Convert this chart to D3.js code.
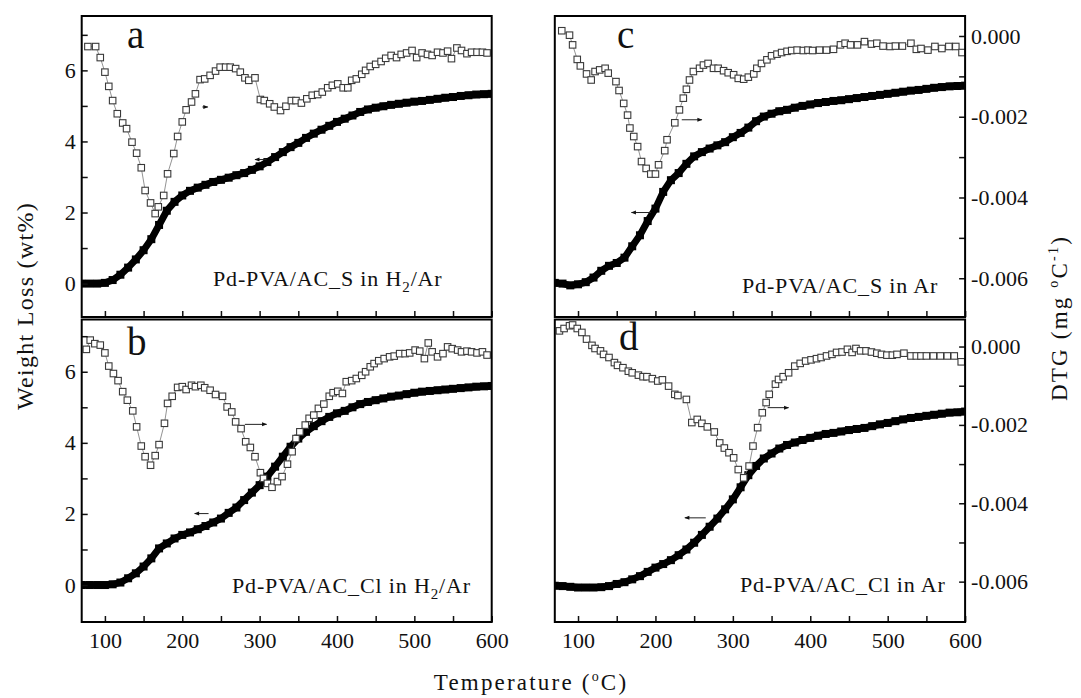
<!DOCTYPE html>
<html>
<head>
<meta charset="utf-8">
<script src="https://cdn.jsdelivr.net/npm/d3@7/dist/d3.min.js"></script>
<style>
  body{margin:0;background:#fff}
  svg{display:block;font-family:"Liberation Serif","Times New Roman",serif}
</style>
</head>
<body>
<script>
// temperatures (°C) at which the weight-loss curves were read
const tempGrid=[70,80,90,100,110,120,130,140,150,160,170,180,190,200,210,220,230,240,250,260,270,280,290,300,310,320,330,340,350,360,370,380,390,400,410,420,430,440,450,460,470,480,490,500,510,520,530,540,550,560,570,580,590,600];
// weight loss (wt%) on tempGrid
const weightA=[0,0,0,0.02,0.1,0.25,0.45,0.68,0.94,1.25,1.65,2.05,2.3,2.48,2.61,2.7,2.78,2.86,2.92,2.98,3.05,3.11,3.2,3.3,3.42,3.56,3.7,3.84,3.96,4.1,4.22,4.33,4.44,4.55,4.64,4.73,4.83,4.9,4.95,4.99,5.03,5.06,5.09,5.12,5.14,5.17,5.2,5.23,5.25,5.28,5.3,5.32,5.33,5.34];
const weightB=[0,0,0,0,0.02,0.07,0.19,0.33,0.52,0.75,1.03,1.17,1.31,1.41,1.48,1.57,1.66,1.76,1.87,2.03,2.18,2.39,2.6,2.81,3.05,3.33,3.61,3.89,4.12,4.31,4.47,4.61,4.73,4.83,4.9,5.0,5.09,5.15,5.2,5.25,5.3,5.33,5.37,5.41,5.44,5.46,5.48,5.5,5.52,5.54,5.56,5.58,5.59,5.6];
const weightC=[0.02,0,-0.05,-0.02,0.04,0.17,0.36,0.5,0.58,0.73,1.05,1.36,1.76,2.11,2.58,2.91,3.11,3.37,3.58,3.7,3.8,3.89,3.98,4.12,4.24,4.39,4.57,4.7,4.78,4.85,4.89,4.95,5.0,5.04,5.08,5.11,5.14,5.16,5.19,5.22,5.25,5.28,5.31,5.34,5.37,5.4,5.43,5.45,5.48,5.51,5.53,5.55,5.56,5.57];
const weightD=[-0.02,-0.03,-0.05,-0.07,-0.07,-0.07,-0.06,-0.03,0.03,0.08,0.16,0.25,0.37,0.49,0.59,0.7,0.84,1.0,1.19,1.41,1.64,1.87,2.13,2.41,2.75,3.09,3.35,3.56,3.7,3.84,3.94,4.01,4.08,4.14,4.2,4.25,4.28,4.32,4.36,4.39,4.42,4.47,4.52,4.56,4.61,4.66,4.7,4.73,4.76,4.79,4.82,4.85,4.86,4.88];

// DTG in panels a and b has no scale of its own: values read against the weight-loss axis
const dtgA=[[78,6.67],[88,6.67],[94,6.36],[100,5.95],[105,5.55],[110,5.15],[116,4.78],[123,4.52],[128,4.36],[135,3.98],[141,3.67],[147,3.26],[152,2.62],[159,2.27],[165,1.97],[169,2.16],[176,2.48],[181,3.09],[189,3.66],[194,4.14],[200,4.55],[205,4.89],[212,5.11],[217,5.34],[223,5.74],[229,5.76],[236,5.86],[243,5.98],[249,6.09],[256,6.09],[262,6.09],[269,6.05],[275,5.95],[281,5.79],[286,5.72],[294,5.79],[301,5.18],[306,5.15],[313,5.06],[319,4.97],[327,4.87],[334,4.99],[341,5.15],[347,5.15],[354,5.08],[361,5.2],[368,5.3],[375,5.32],[381,5.39],[388,5.51],[394,5.58],[401,5.62],[408,5.51],[414,5.51],[419,5.72],[425,5.76],[432,5.89],[437,6.0],[443,6.11],[450,6.17],[457,6.25],[463,6.34],[470,6.42],[477,6.36],[483,6.45],[490,6.49],[497,6.56],[503,6.36],[510,6.49],[517,6.45],[523,6.42],[530,6.51],[537,6.49],[543,6.54],[548,6.33],[555,6.63],[561,6.56],[568,6.47],[574,6.51],[581,6.51],[588,6.51],[594,6.49]];
const dtgB=[[76,6.63],[81,6.89],[87,6.79],[94,6.75],[100,6.53],[105,6.16],[111,5.95],[117,5.75],[123,5.44],[129,5.2],[136,4.9],[141,4.45],[147,3.91],[152,3.61],[159,3.37],[165,3.64],[170,3.95],[177,4.55],[181,5.11],[187,5.31],[194,5.56],[200,5.58],[205,5.5],[212,5.62],[217,5.58],[224,5.62],[229,5.55],[236,5.48],[243,5.36],[252,5.31],[258,5.01],[264,4.87],[269,4.59],[276,4.4],[282,4.03],[288,3.87],[294,3.61],[301,3.16],[305,3.0],[310,2.86],[316,2.75],[323,2.91],[329,3.05],[336,3.4],[342,3.75],[347,4.12],[352,4.31],[359,4.5],[364,4.69],[370,4.78],[376,4.97],[383,5.09],[390,5.31],[395,5.41],[401,5.45],[407,5.39],[412,5.72],[419,5.75],[425,5.81],[432,5.9],[437,6.0],[443,6.14],[448,6.23],[454,6.31],[461,6.37],[468,6.42],[474,6.44],[481,6.51],[488,6.51],[494,6.53],[501,6.61],[507,6.58],[513,6.37],[518,6.81],[523,6.56],[530,6.42],[537,6.51],[543,6.7],[549,6.65],[556,6.61],[561,6.56],[568,6.58],[574,6.56],[581,6.53],[588,6.56],[594,6.47]];
// DTG (mg °C-1) for panels c and d, read against the right axis
const dtgC=[[79,0.00013],[89,0.00002],[93,-0.00022],[99,-0.00058],[103,-0.00074],[111,-0.00094],[117,-0.00109],[122,-0.00088],[128,-0.00084],[135,-0.0008],[139,-0.00092],[149,-0.00113],[153,-0.00135],[159,-0.00167],[164,-0.00196],[167,-0.00228],[172,-0.00249],[177,-0.00274],[182,-0.00311],[188,-0.00328],[194,-0.00342],[200,-0.00342],[204,-0.00319],[212,-0.00284],[215,-0.00257],[225,-0.00215],[231,-0.00183],[236,-0.00154],[240,-0.00132],[244,-0.00109],[249,-0.00088],[257,-0.0008],[262,-0.00072],[268,-0.00068],[275,-0.0008],[281,-0.0008],[288,-0.00086],[294,-0.00091],[301,-0.00096],[307,-0.00105],[314,-0.00107],[320,-0.00102],[327,-0.00094],[331,-0.0008],[337,-0.00068],[344,-0.00059],[350,-0.00049],[357,-0.00045],[363,-0.00041],[370,-0.00038],[376,-0.00036],[383,-0.00035],[391,-0.00036],[397,-0.00035],[403,-0.00036],[412,-0.00035],[421,-0.00035],[430,-0.00033],[439,-0.00022],[445,-0.00018],[452,-0.00022],[461,-0.00022],[470,-0.00014],[479,-0.0002],[486,-0.00018],[494,-0.00025],[503,-0.00026],[510,-0.00025],[519,-0.00025],[530,-0.00018],[537,-0.00033],[543,-0.00031],[552,-0.00035],[561,-0.00026],[570,-0.00031],[579,-0.00026],[588,-0.00026],[596,-0.00041]];
const dtgD=[[76,0.0004],[82,0.00046],[89,0.00053],[93,0.00055],[99,0.00046],[105,0.00036],[111,0.00019],[118,0.00003],[122,-0.00005],[129,-0.00011],[133,-0.0002],[140,-0.00028],[147,-0.00041],[151,-0.00048],[158,-0.00054],[165,-0.00063],[170,-0.00067],[178,-0.00073],[184,-0.00077],[189,-0.00077],[196,-0.00082],[203,-0.00088],[209,-0.00085],[217,-0.00101],[225,-0.00122],[229,-0.00125],[240,-0.00135],[247,-0.00194],[254,-0.00186],[260,-0.00196],[267,-0.00205],[276,-0.00218],[283,-0.00246],[289,-0.00259],[295,-0.00271],[301,-0.00284],[307,-0.00314],[314,-0.00335],[321,-0.00305],[326,-0.00254],[332,-0.00207],[338,-0.00169],[343,-0.00143],[347,-0.00122],[355,-0.00096],[359,-0.00084],[365,-0.00077],[372,-0.00067],[380,-0.0005],[387,-0.00043],[394,-0.00037],[401,-0.00034],[408,-0.00031],[414,-0.00028],[421,-0.00024],[428,-0.0002],[434,-0.00015],[441,-0.00014],[448,-0.00007],[454,-0.00015],[459,-0.00005],[465,-0.00011],[472,-0.00011],[479,-0.00014],[486,-0.00017],[492,-0.0002],[499,-0.00022],[506,-0.00022],[512,-0.0002],[521,-0.00017],[530,-0.00024],[537,-0.00024],[543,-0.00024],[550,-0.00024],[559,-0.00024],[568,-0.00024],[577,-0.00024],[586,-0.00024],[595,-0.00039]];

// arrows [t1, t2, weight level, direction]
const arrowsA=[[226,233,4.97,1],[294,309,3.49,-1]];
const arrowsB=[[281,309,4.52,1],[216,234,2.01,-1]];
const arrowsC=[[234,260,4.61,1],[169,194,2.0,-1]];
const arrowsD=[[345,372,4.99,1],[238,265,1.89,-1]];

const tempTicks=[100,150,200,250,300,350,400,450,500,550,600];
const weightTicks=[0,1,2,3,4,5,6,7];
const dtgTicks=[0,-0.001,-0.002,-0.003,-0.004,-0.005,-0.006];
const panelIds=["a","b","c","d"];
const sampleNames=["Pd-PVA/AC_S in H2/Ar","Pd-PVA/AC_Cl in H2/Ar","Pd-PVA/AC_S in Ar","Pd-PVA/AC_Cl in Ar"];

const W=1081,H=698;
const cols=[[81.7,491.7],[554.8,965.1]], rows=[[16,317],[319.5,622]];
const weightDomains=[[-0.94,7.53],[-1.04,7.47]];
const panels=[
  {id:panelIds[0],col:0,row:0,weight:weightA,dtg:dtgA,dtgDomain:null,arrows:arrowsA,name:sampleNames[0],nx:213,ny:286,lx:127,ly:48},
  {id:panelIds[1],col:0,row:1,weight:weightB,dtg:dtgB,dtgDomain:null,arrows:arrowsB,name:sampleNames[1],nx:232,ny:593,lx:127,ly:355},
  {id:panelIds[2],col:1,row:0,weight:weightC,dtg:dtgC,dtgDomain:[-0.00696,0.000495],arrows:arrowsC,name:sampleNames[2],nx:742,ny:293,lx:617,ly:48},
  {id:panelIds[3],col:1,row:1,weight:weightD,dtg:dtgD,dtgDomain:[-0.00703,0.00069],arrows:arrowsD,name:sampleNames[3],nx:740,ny:592,lx:619,ly:350}
];

const svg=d3.select("body").append("svg").attr("width",W).attr("height",H);
const defs=svg.append("defs");
defs.append("marker").attr("id","head").attr("viewBox","0 0 10 10").attr("refX",9).attr("refY",5)
  .attr("markerWidth",6).attr("markerHeight",5).attr("markerUnits","userSpaceOnUse").attr("orient","auto")
  .append("path").attr("d","M0,1L10,5L0,9Z").attr("fill","#111");

panels.forEach(p=>{
  const [x0,x1]=cols[p.col],[y0,y1]=rows[p.row];
  const x=d3.scaleLinear().domain([70,600]).range([x0,x1]);
  const yW=d3.scaleLinear().domain(weightDomains[p.row]).range([y1,y0]);
  const yD=p.dtgDomain?d3.scaleLinear().domain(p.dtgDomain).range([y1,y0]):yW;
  const g=svg.append("g");

  defs.append("clipPath").attr("id","clip-"+p.id).append("rect")
    .attr("x",x0).attr("y",y0).attr("width",x1-x0).attr("height",y1-y0);
  const plot=g.append("g").attr("clip-path",`url(#clip-${p.id})`);

  // weight loss: dense filled squares
  const wPts=tempGrid.map((t,i)=>[t,p.weight[i]]);
  plot.append("path").datum(wPts)
    .attr("d",d3.line().x(d=>x(d[0])).y(d=>yW(d[1])))
    .attr("fill","none").attr("stroke","#000").attr("stroke-width",7);
  plot.selectAll(".w").data(wPts).join("rect")
    .attr("x",d=>x(d[0])-4).attr("y",d=>yW(d[1])-4).attr("width",8).attr("height",8).attr("fill","#000");

  // DTG: open squares joined by a thin line
  plot.append("path").datum(p.dtg)
    .attr("d",d3.line().x(d=>x(d[0])).y(d=>yD(d[1])))
    .attr("fill","none").attr("stroke","#777").attr("stroke-width",0.8);
  plot.selectAll(".d").data(p.dtg).join("rect")
    .attr("x",d=>x(d[0])-3.25).attr("y",d=>yD(d[1])-3.25).attr("width",6.5).attr("height",6.5)
    .attr("fill","#fff").attr("stroke","#3a3a3a").attr("stroke-width",1.1);

  // arrows pointing to the axis each curve belongs to
  g.selectAll(".arr").data(p.arrows).join("line")
    .attr("x1",d=>x(d[3]>0?d[0]:d[1])).attr("x2",d=>x(d[3]>0?d[1]:d[0]))
    .attr("y1",d=>yW(d[2])).attr("y2",d=>yW(d[2]))
    .attr("stroke","#222").attr("stroke-width",1).attr("marker-end","url(#head)");

  // bottom axis, ticks inside
  g.append("g").attr("transform",`translate(0,${y1})`)
    .call(d3.axisBottom(x).tickValues(tempTicks).tickSize(-6).tickPadding(10)
      .tickFormat(d=>(p.row===1&&d%100===0)?d:""));
  // left axis, only on the left column
  if(p.col===0){
    g.append("g").attr("transform",`translate(${x0},0)`)
      .call(d3.axisLeft(yW).tickValues(weightTicks).tickSize(-6).tickPadding(6)
        .tickFormat(d=>d%2===0?d:""));
  }
  // right DTG axis, only on the right column
  if(p.col===1){
    g.append("g").attr("transform",`translate(${x1},0)`)
      .call(d3.axisRight(yD).tickValues(dtgTicks).tickSize(-6).tickPadding(6)
        .tickFormat(d=>Math.round(d*1000)%2===0?d.toFixed(3):""));
  }
  g.selectAll(".domain").remove();
  g.selectAll(".tick line").attr("stroke","#111").attr("stroke-width",1.5);
  g.selectAll(".tick text").attr("font-family","Liberation Serif").attr("font-size",22).attr("fill","#111");

  g.append("rect").attr("x",x0).attr("y",y0).attr("width",x1-x0).attr("height",y1-y0)
    .attr("fill","none").attr("stroke","#000").attr("stroke-width",2);

  // panel letter
  g.append("text").attr("x",p.lx).attr("y",p.ly).attr("font-size",39).attr("fill","#111").text(p.id);

  // sample name, H2 written with a subscript
  const t=g.append("text").attr("x",p.nx).attr("y",p.ny).attr("font-size",22)
    .attr("letter-spacing",0.85).attr("fill","#111");
  const parts=p.name.split("H2");
  t.append("tspan").text(parts[0]);
  if(parts.length>1){
    t.append("tspan").text("H");
    t.append("tspan").attr("dy",6).attr("font-size",15).text("2");
    t.append("tspan").attr("dy",-6).text(parts[1]);
  }
});

// axis titles
const xt=svg.append("text").attr("x",531).attr("y",690).attr("text-anchor","middle")
  .attr("font-size",23).attr("letter-spacing",2.2).attr("fill","#111");
xt.append("tspan").text("Temperature (");
xt.append("tspan").attr("dy",-9).attr("font-size",14).text("o");
xt.append("tspan").attr("dy",9).text("C)");

svg.append("text").attr("transform","translate(33,306) rotate(-90)").attr("text-anchor","middle")
  .attr("font-size",24).attr("letter-spacing",1.3).attr("fill","#111").text("Weight Loss (wt%)");

const yt=svg.append("text").attr("transform","translate(1067,318) rotate(-90)").attr("text-anchor","middle")
  .attr("font-size",23).attr("letter-spacing",2.2).attr("fill","#111");
yt.append("tspan").text("DTG (mg ");
yt.append("tspan").attr("dy",-9).attr("font-size",14).text("o");
yt.append("tspan").attr("dy",9).text("C");
yt.append("tspan").attr("dy",-9).attr("font-size",14).text("-1");
yt.append("tspan").attr("dy",9).text(")");
</script>
</body>
</html>
